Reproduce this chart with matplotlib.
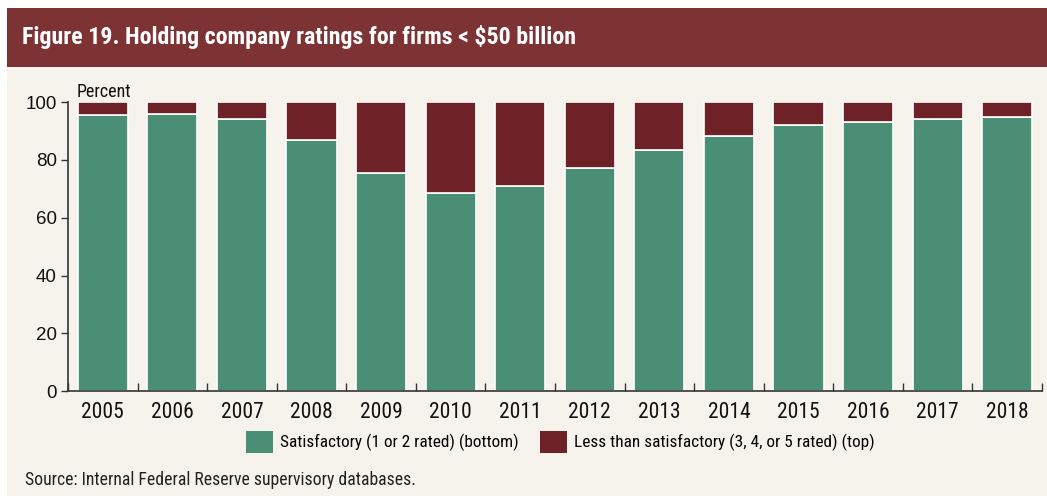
import matplotlib
matplotlib.use("Agg")
import matplotlib.pyplot as plt
from matplotlib.patches import Rectangle, Patch
from matplotlib.ticker import FixedLocator
import numpy as np

narrow = ["Roboto Condensed", "Archivo Narrow", "Liberation Sans Narrow", "Liberation Sans", "DejaVu Sans"]
plt.rcParams["font.family"] = narrow

years = ["2005", "2006", "2007", "2008", "2009", "2010", "2011",
         "2012", "2013", "2014", "2015", "2016", "2017", "2018"]
satisfactory = [95.6, 95.8, 94.3, 86.9, 75.5, 68.5, 71.1,
                77.1, 83.3, 88.2, 92.1, 93.3, 94.3, 95.0]
less_than = [100 - v for v in satisfactory]

green = "#4b8e76"
dark_red = "#6e2126"
banner = "#7d3233"
cream = "#f6f3ec"
axis_col = "#333333"

fig = plt.figure(figsize=(10.47, 4.96), dpi=100)
fig.patch.set_facecolor("white")

# cream panel + title banner (behind the axes)
fig.patches.append(Rectangle((7 / 1047, 0), 1, 1 - 8 / 496, transform=fig.transFigure,
                             facecolor=cream, edgecolor="none", zorder=-5))
fig.patches.append(Rectangle((7 / 1047, 1 - 67 / 496), 1, 59 / 496, transform=fig.transFigure,
                             facecolor=banner, edgecolor="none", zorder=-4))
fig.text(22 / 1047, 1 - 37 / 496, "Figure 19. Holding company ratings for firms < $50 billion",
         color="white", fontsize=17.2, fontweight="bold", va="center", ha="left")

ax = fig.add_axes([68 / 1047, 1 - 391.1 / 496, (1042 - 68) / 1047, (391.1 - 102.2) / 496])
ax.set_facecolor("none")

x = np.arange(len(years))
ax.bar(x, satisfactory, width=0.72, color=green, edgecolor="white", linewidth=1.2)
ax.bar(x, less_than, width=0.72, bottom=satisfactory, color=dark_red, edgecolor="white",
       linewidth=1.2)

ax.set_xlim(-0.5, len(years) - 0.5)
ax.set_ylim(0, 100)
ax.set_yticks([0, 20, 40, 60, 80, 100])
ax.set_xticks(x)
ax.set_xticklabels(years, fontsize=15.5)
for lab in ax.get_yticklabels():
    lab.set_fontfamily(["Liberation Sans", "DejaVu Sans"])
    lab.set_fontsize(13.5)

ax.xaxis.set_minor_locator(FixedLocator(np.arange(-0.5, len(years), 1.0)))
ax.tick_params(axis="x", which="major", length=0, pad=8, colors="#111111")
ax.tick_params(axis="x", which="minor", direction="in", length=6, width=1, color=axis_col)
ax.tick_params(axis="y", which="major", direction="out", length=5, width=1, color=axis_col,
               pad=3, labelcolor="#111111")

for side in ["top", "right"]:
    ax.spines[side].set_visible(False)
for side in ["left", "bottom"]:
    ax.spines[side].set_color(axis_col)
    ax.spines[side].set_linewidth(1.2)

ax.text(0.009, 1.003, "Percent", transform=ax.transAxes, fontsize=13, va="bottom", ha="left",
        color="#111111")

handles = [Patch(facecolor=green, edgecolor="none"), Patch(facecolor=dark_red, edgecolor="none")]
fig.legend(handles, ["Satisfactory (1 or 2 rated) (bottom)",
                     "Less than satisfactory (3, 4, or 5 rated) (top)"],
           loc="center left", bbox_to_anchor=(246 / 1047, 1 - 442 / 496), ncol=2, frameon=False,
           fontsize=12.4, handlelength=1.57, handleheight=1.57, handletextpad=0.41,
           columnspacing=1.22, borderaxespad=0, borderpad=0)

fig.text(25 / 1047, 1 - 480 / 496, "Source: Internal Federal Reserve supervisory databases.",
         fontsize=12.7, va="center", ha="left", color="#222222")

fig.savefig("out.png", dpi=100, facecolor=fig.get_facecolor())
